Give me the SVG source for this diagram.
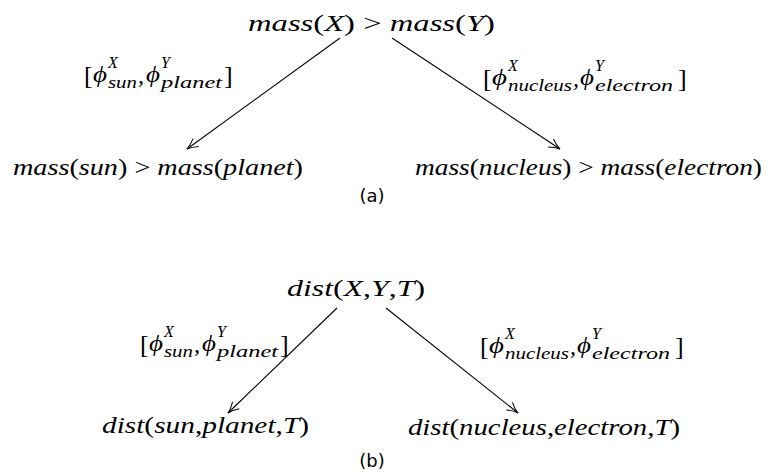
<svg xmlns="http://www.w3.org/2000/svg" width="770" height="475" viewBox="0 0 770 475">
<style>
text{font-family:"Liberation Serif","DejaVu Serif",serif;fill:#000}
.m{font-size:24px;font-style:italic}
.u{font-style:normal}
.ph{font-size:24px;font-style:italic}
.br{font-size:26px}
.sb{font-size:17px;font-style:italic}
.sp{font-size:16px;font-style:italic}
.cap{font-family:"DejaVu Sans","Liberation Sans",sans-serif;font-size:18px}
.edge{stroke:#000;stroke-width:1.1;fill:none;marker-end:url(#arr)}
</style>
<defs>
<marker id="arr" markerWidth="14" markerHeight="12" refX="12" refY="6" orient="auto" markerUnits="userSpaceOnUse">
<path d="M1,1.2 Q7,5 12,6 Q7,7 1,10.8" fill="none" stroke="#000" stroke-width="1"/>
</marker>
</defs>
<rect width="770" height="475" fill="#fff"/>

<g id="connectors">
<line class="edge" x1="340" y1="38" x2="187" y2="149"/>
<line class="edge" x1="392" y1="38" x2="560" y2="149"/>
<line class="edge" x1="337" y1="308" x2="228" y2="413"/>
<line class="edge" x1="386" y1="308" x2="518" y2="413"/>
</g>

<g id="node-a-top">
<text class="m" x="248" y="31" textLength="247" lengthAdjust="spacingAndGlyphs">mass<tspan class="u">(</tspan>X<tspan class="u">)</tspan><tspan class="u"> &gt; </tspan>mass<tspan class="u">(</tspan>Y<tspan class="u">)</tspan></text>
</g>
<g id="node-a-left">
<text class="m" x="13" y="175" textLength="290" lengthAdjust="spacingAndGlyphs">mass<tspan class="u">(</tspan>sun<tspan class="u">)</tspan><tspan class="u"> &gt; </tspan>mass<tspan class="u">(</tspan>planet<tspan class="u">)</tspan></text>
</g>
<g id="node-a-right">
<text class="m" x="415" y="175" textLength="347" lengthAdjust="spacingAndGlyphs">mass<tspan class="u">(</tspan>nucleus<tspan class="u">)</tspan><tspan class="u"> &gt; </tspan>mass<tspan class="u">(</tspan>electron<tspan class="u">)</tspan></text>
</g>

<g id="label-a-left">
<text class="br" x="84" y="84">[</text>
<text class="ph" x="93" y="82" textLength="14" lengthAdjust="spacingAndGlyphs">ϕ</text>
<text class="sp" x="108" y="68">X</text>
<text class="sb" x="108" y="88" textLength="29" lengthAdjust="spacingAndGlyphs">sun</text>
<text class="ph" x="138" y="83">,</text>
<text class="ph" x="146" y="82" textLength="14" lengthAdjust="spacingAndGlyphs">ϕ</text>
<text class="sp" x="161" y="68">Y</text>
<text class="sb" x="161" y="88" textLength="61" lengthAdjust="spacingAndGlyphs">planet</text>
<text class="br" x="224" y="84">]</text>
</g>
<g id="label-a-right">
<text class="br" x="483" y="87">[</text>
<text class="ph" x="492" y="85" textLength="15" lengthAdjust="spacingAndGlyphs">ϕ</text>
<text class="sp" x="508" y="71">X</text>
<text class="sb" x="508" y="91" textLength="64" lengthAdjust="spacingAndGlyphs">nucleus</text>
<text class="ph" x="573" y="86">,</text>
<text class="ph" x="580" y="85" textLength="14" lengthAdjust="spacingAndGlyphs">ϕ</text>
<text class="sp" x="595" y="71">Y</text>
<text class="sb" x="595" y="91" textLength="78" lengthAdjust="spacingAndGlyphs">electron</text>
<text class="br" x="678" y="87">]</text>
</g>

<text class="cap" x="372" y="202" text-anchor="middle">(a)</text>

<g id="node-b-top">
<text class="m" x="287" y="296" textLength="138" lengthAdjust="spacingAndGlyphs">dist<tspan class="u">(</tspan>X<tspan class="u">,</tspan>Y<tspan class="u">,</tspan>T<tspan class="u">)</tspan></text>
</g>
<g id="node-b-left">
<text class="m" x="102" y="433" textLength="207" lengthAdjust="spacingAndGlyphs">dist<tspan class="u">(</tspan>sun<tspan class="u">,</tspan>planet<tspan class="u">,</tspan>T<tspan class="u">)</tspan></text>
</g>
<g id="node-b-right">
<text class="m" x="408" y="435" textLength="272" lengthAdjust="spacingAndGlyphs">dist<tspan class="u">(</tspan>nucleus<tspan class="u">,</tspan>electron<tspan class="u">,</tspan>T<tspan class="u">)</tspan></text>
</g>

<g id="label-b-left">
<text class="br" x="140" y="353">[</text>
<text class="ph" x="149" y="351" textLength="14" lengthAdjust="spacingAndGlyphs">ϕ</text>
<text class="sp" x="164" y="337">X</text>
<text class="sb" x="164" y="357" textLength="29" lengthAdjust="spacingAndGlyphs">sun</text>
<text class="ph" x="194" y="352">,</text>
<text class="ph" x="202" y="351" textLength="14" lengthAdjust="spacingAndGlyphs">ϕ</text>
<text class="sp" x="217" y="337">Y</text>
<text class="sb" x="217" y="357" textLength="61" lengthAdjust="spacingAndGlyphs">planet</text>
<text class="br" x="280" y="353">]</text>
</g>
<g id="label-b-right">
<text class="br" x="480" y="355">[</text>
<text class="ph" x="489" y="353" textLength="15" lengthAdjust="spacingAndGlyphs">ϕ</text>
<text class="sp" x="505" y="339">X</text>
<text class="sb" x="505" y="359" textLength="64" lengthAdjust="spacingAndGlyphs">nucleus</text>
<text class="ph" x="570" y="354">,</text>
<text class="ph" x="577" y="353" textLength="14" lengthAdjust="spacingAndGlyphs">ϕ</text>
<text class="sp" x="592" y="339">Y</text>
<text class="sb" x="592" y="359" textLength="78" lengthAdjust="spacingAndGlyphs">electron</text>
<text class="br" x="675" y="355">]</text>
</g>

<text class="cap" x="372" y="467" text-anchor="middle">(b)</text>
</svg>
